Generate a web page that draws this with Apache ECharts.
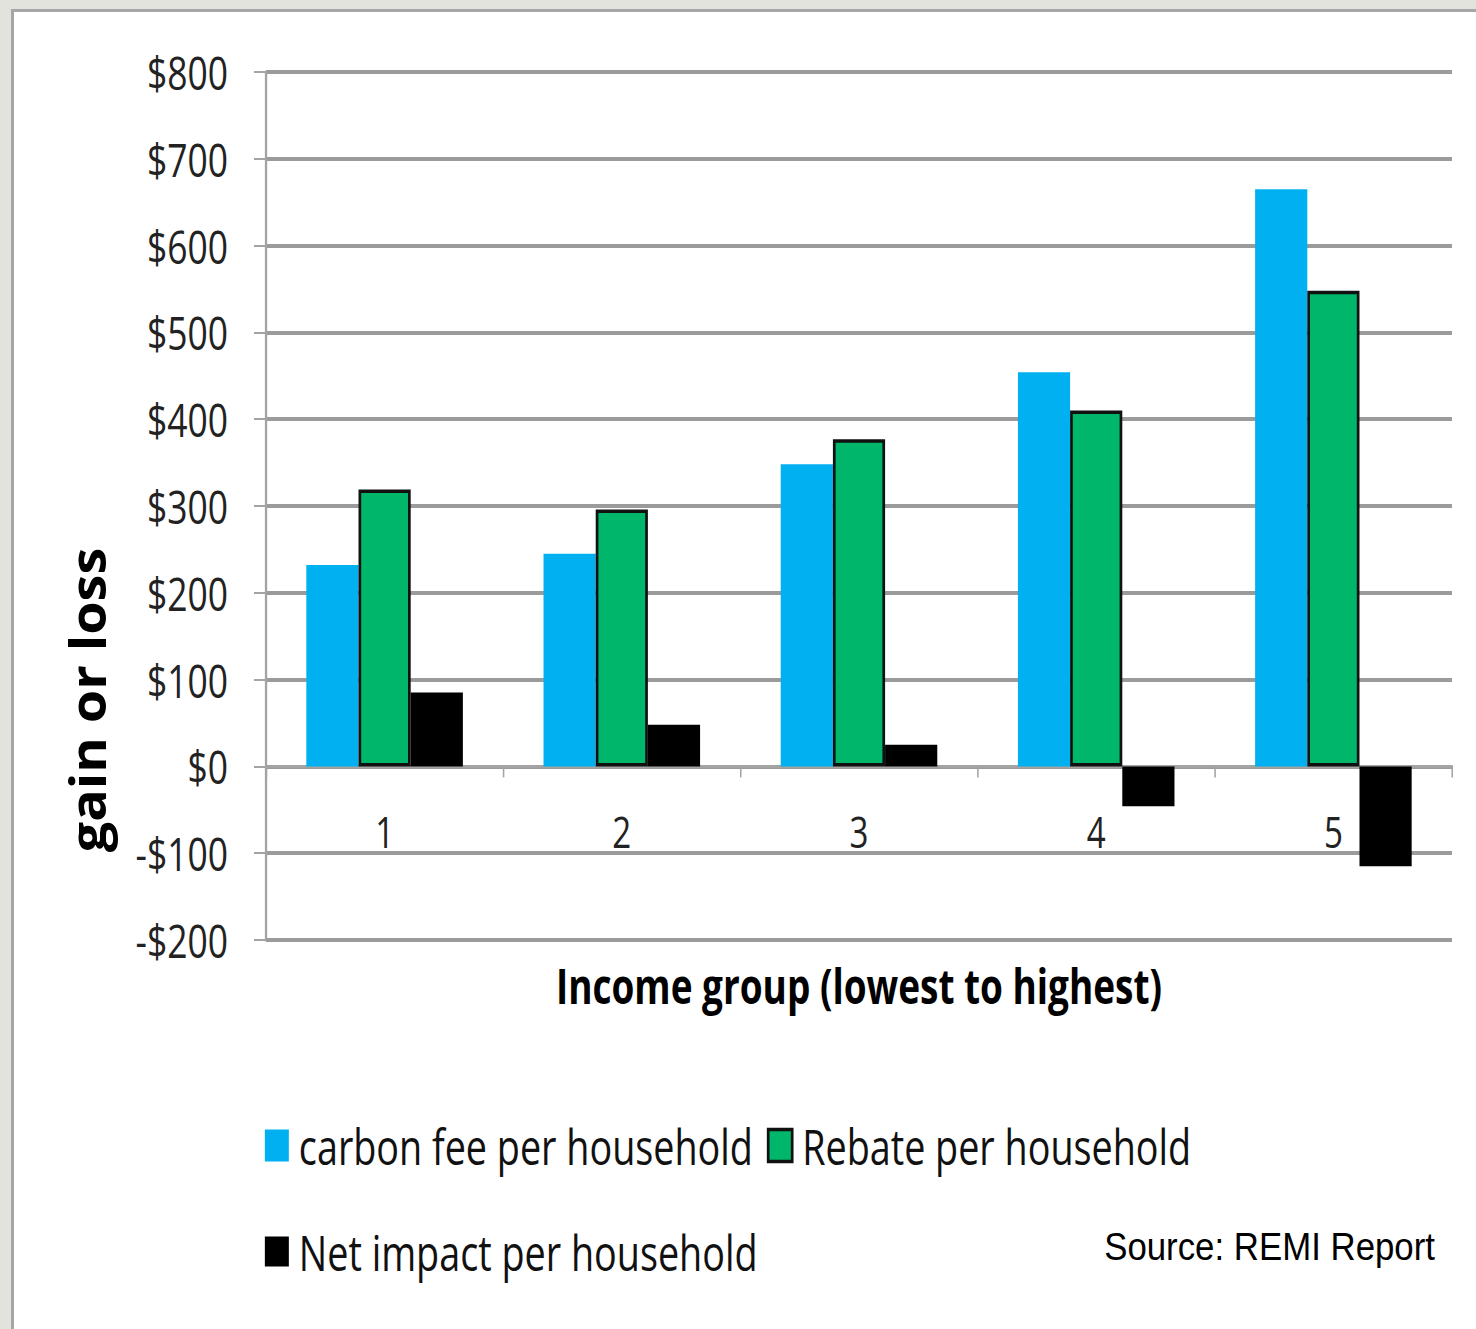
<!DOCTYPE html>
<html>
<head>
<meta charset="utf-8">
<title>Carbon fee and rebate by income group</title>
<script src="https://cdn.jsdelivr.net/npm/echarts@6/dist/echarts.min.js"></script>
<style>
  html, body { margin: 0; padding: 0; width: 1476px; height: 1329px; overflow: hidden; background: #e3e3de; }
  #panel { position: absolute; left: 11px; top: 9px; right: -10px; bottom: -10px; background: #fff;
           border-left: 3px solid #a6a6a6; border-top: 3px solid #a6a6a6; }
  /* chart is laid out on a wider canvas and squeezed horizontally to the narrow lettering */
  #chart { position: absolute; left: 0; top: 0; height: 1329px; transform-origin: 0 0; }
</style>
</head>
<body>
<div id="panel"></div>
<div id="chart"></div>
<script>
// Household gain or loss by income quintile
const incomeGroups = ['1', '2', '3', '4', '5'];
const carbonFee = [232, 245, 348, 454, 665];
const rebate = [319, 296, 377, 410, 548];
const netImpact = [85, 48, 25, -46, -115];
const yTicks = { min: -200, max: 800, step: 100 };

const SQUEEZE = 0.77;
const PAGE_W = 1476;
const chartW = PAGE_W / SQUEEZE;
const el = document.getElementById('chart');
el.style.width = chartW + 'px';
el.style.transform = 'scaleX(' + SQUEEZE + ')';

const X = v => v / SQUEEZE;   // page x -> chart x
const FONT = '"Open Sans", "Liberation Sans", sans-serif';
const GRID_GRAY = '#9b9b9b';

const chart = echarts.init(el, null, { renderer: 'svg', width: chartW, height: 1329 });

chart.setOption({
  animation: false,
  backgroundColor: 'transparent',
  grid: { left: X(266), right: chartW - X(1452), top: 72, bottom: 1329 - 940, containLabel: false },
  legend: [
    {
      left: X(261), top: 1116, itemWidth: X(24), itemHeight: 32, itemGap: 18,
      icon: 'rect',
      textStyle: { fontFamily: FONT, fontSize: 49, color: '#111', padding: [0, 0, 0, 8] },
      data: [
        { name: 'carbon fee per household' },
        { name: 'Rebate per household', itemStyle: { borderColor: '#111', borderWidth: 3.5 } }
      ]
    },
    {
      left: X(261), top: 1222, itemWidth: X(24), itemHeight: 30,
      icon: 'rect',
      textStyle: { fontFamily: FONT, fontSize: 49, color: '#111', padding: [0, 0, 0, 8] },
      data: [{ name: 'Net impact per household' }]
    }
  ],
  xAxis: {
    type: 'category',
    data: incomeGroups,
    name: 'Income group (lowest to highest)',
    nameLocation: 'middle',
    nameGap: 22,
    nameTextStyle: { fontFamily: FONT, fontWeight: 'bold', fontSize: 48, color: '#000' },
    axisLine: { show: true, onZero: true, lineStyle: { color: '#a3a3a3', width: 3 } },
    axisTick: { show: true, length: 11, lineStyle: { color: '#a3a3a3', width: 2 } },
    axisLabel: { margin: -130, fontFamily: FONT, fontSize: 43, color: '#222' },
    splitLine: { show: false }
  },
  yAxis: {
    type: 'value',
    min: yTicks.min, max: yTicks.max, interval: yTicks.step,
    axisLine: { show: true, lineStyle: { color: '#a3a3a3', width: 3 } },
    axisTick: { show: true, length: X(12), lineStyle: { color: '#a3a3a3', width: 2 } },
    axisLabel: {
      margin: X(38), fontFamily: FONT, fontSize: 46, color: '#222',
      formatter: v => (v < 0 ? '-$' + Math.abs(v) : '$' + v)
    },
    splitLine: { show: true, lineStyle: { color: GRID_GRAY, width: 3.8 } }
  },
  series: [
    {
      name: 'carbon fee per household', type: 'bar', data: carbonFee,
      barGap: '0%', barCategoryGap: '34%',
      itemStyle: { color: '#00b0f0' }
    },
    {
      name: 'Rebate per household', type: 'bar', data: rebate,
      itemStyle: { color: '#00b66a', borderColor: '#111', borderWidth: 3.5 }
    },
    {
      name: 'Net impact per household', type: 'bar', data: netImpact,
      itemStyle: { color: '#000' }
    }
  ],
  graphic: [
    {
      type: 'text', x: X(86), y: 700, rotation: Math.PI / 2, scaleY: 1.2,
      style: { text: 'gain or loss', font: 'bold 54px ' + FONT, fill: '#000', align: 'center', verticalAlign: 'middle' }
    },
    {
      type: 'text', x: X(1435), y: 1247, scaleX: 1.19,
      style: { text: 'Source: REMI Report', font: '38px "Liberation Sans", Arial, sans-serif', fill: '#000', align: 'right', verticalAlign: 'middle' }
    }
  ]
});
</script>
</body>
</html>
